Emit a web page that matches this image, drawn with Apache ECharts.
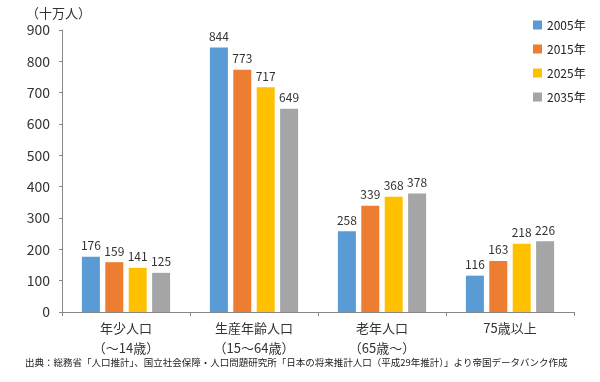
<!DOCTYPE html>
<html><head><meta charset="utf-8">
<script src="https://cdn.jsdelivr.net/npm/echarts@6/dist/echarts.min.js"></script>
<style>html,body{margin:0;padding:0;background:#fff}#c{width:600px;height:382px}</style>
</head><body><div id="c"></div>
<script>
const categories = ['年少人口\n（～14歳）', '生産年齢人口\n（15～64歳）', '老年人口\n（65歳～）', '75歳以上'];
const seriesNames = ['2005年', '2015年', '2025年', '2035年'];
const v2005 = [176, 844, 258, 116];
const v2015 = [159, 773, 339, 163];
const v2025 = [141, 717, 368, 218];
const v2035 = [125, 649, 378, 226];
const yTicks = [0, 900, 100];
const colors = ['#5B9BD5', '#ED7D31', '#FFC000', '#A5A5A5'];
const values = [v2005, v2015, v2025, v2035];
const FONT = '"Noto Sans CJK JP", "Noto Sans", sans-serif';
const chart = echarts.init(document.getElementById('c'));
chart.setOption({
  animation: false,
  textStyle: { fontFamily: FONT },
  grid: { left: 62, right: 26, top: 30, bottom: 70 },
  legend: {
    orient: 'vertical', left: 528, top: 14, itemWidth: 9, itemHeight: 9, itemGap: 12,
    icon: 'rect', textStyle: { fontSize: 12, color: '#222', fontFamily: FONT },
    data: seriesNames
  },
  graphic: [
    { type: 'text', left: 26, top: 7, style: { text: '（十万人）', font: '13px ' + FONT, fill: '#333' } },
    { type: 'text', left: 25, top: 358, style: { text: '出典：総務省「人口推計」、国立社会保障・人口問題研究所「日本の将来推計人口（平成29年推計）」より帝国データバンク作成', font: '9.5px ' + FONT, fill: '#222' } }
  ],
  xAxis: {
    type: 'category', data: categories,
    axisLine: { lineStyle: { color: '#888' } },
    axisTick: { show: true, length: 4, lineStyle: { color: '#888' } },
    axisLabel: { fontSize: 13, color: '#333', lineHeight: 20, margin: 6, fontFamily: FONT }
  },
  yAxis: {
    type: 'value', min: yTicks[0], max: yTicks[1], interval: yTicks[2],
    splitLine: { show: false },
    axisLine: { show: true, lineStyle: { color: '#888' } },
    axisTick: { show: true, length: 3, lineStyle: { color: '#888' } },
    axisLabel: { fontSize: 14, color: '#333', margin: 12, fontFamily: FONT }
  },
  series: seriesNames.map((n, i) => ({
    name: n, type: 'bar', data: values[i], barWidth: 18, barGap: '30%', barCategoryGap: '32%',
    itemStyle: { color: colors[i] },
    label: { show: true, position: 'top', fontSize: 12, color: '#333', distance: 5, fontFamily: FONT }
  }))
});
</script></body></html>
